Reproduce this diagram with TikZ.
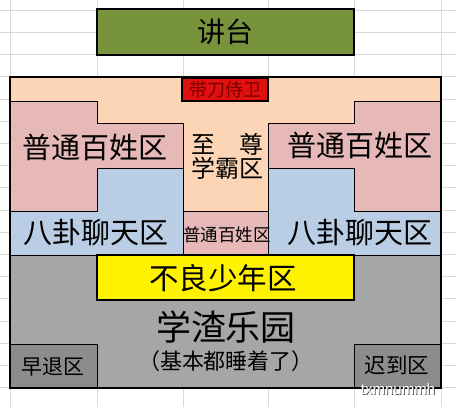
\documentclass[tikz,border=0pt]{standalone}
\usepackage{fontspec}
\newfontfamily\cjk{Noto Sans CJK SC}
\usetikzlibrary{positioning}

\definecolor{podiumgreen}{HTML}{77933C}
\definecolor{peachzone}{HTML}{FBD5B5}
\definecolor{pinkzone}{HTML}{E6B9B8}
\definecolor{bluezone}{HTML}{B9CDE5}
\definecolor{grayzone}{HTML}{A6A6A6}
\definecolor{darkzone}{HTML}{8C8C8C}
\definecolor{guardred}{HTML}{E0100F}
\definecolor{guardtext}{HTML}{7A0000}
\definecolor{gridgray}{HTML}{D9D9D9}

\begin{document}
\begin{tikzpicture}[
    x=1pt, y=-1pt,
    zone/.style={draw=black, line width=0.9pt},
    zonetext/.style={font=\cjk\fontsize{#1}{#1}\selectfont, inner sep=0pt, align=center},
    gridline/.style={draw=gridgray, line width=0.6pt},
    marktext/.style={font=\fontspec{Liberation Sans}\fontsize{15}{15}\selectfont, inner sep=0pt}
]
\useasboundingbox (0,0) rectangle (456,407);

% spreadsheet grid
\foreach \gx in {10,97,183,268,354,441}
    \draw[gridline] (\gx,0) -- (\gx,407);
\foreach \gy in {0,...,18}
    \draw[gridline] (0,10+22.2*\gy) -- (456,10+22.2*\gy);

% podium
\node[zone, line width=2pt, fill=podiumgreen, minimum width=257pt, minimum height=46pt, inner sep=0pt] (podium) at (225.5,32) {};
\node[zonetext=28] (podiumtext) at (podium.center) {讲台};

% classroom zones
\fill[peachzone] (10,77) rectangle (441,255);
\draw[zone, fill=pinkzone] (10,101) -- (97,101) -- (97,123) -- (183,123) -- (183,168) -- (97,168) -- (97,211) -- (10,211) -- cycle;
\draw[zone, fill=bluezone] (97,168) -- (183,168) -- (183,255) -- (10,255) -- (10,211) -- (97,211) -- cycle;
\draw[zone, fill=pinkzone] (441,101) -- (354,101) -- (354,123) -- (268,123) -- (268,168) -- (354,168) -- (354,211) -- (441,211) -- cycle;
\draw[zone, fill=bluezone] (354,168) -- (268,168) -- (268,255) -- (441,255) -- (441,211) -- (354,211) -- cycle;
\draw[zone, fill=pinkzone] (183,211) rectangle (268,255);
\draw[zone, fill=grayzone] (10,255) rectangle (441,388);
\draw[zone, line width=1.4pt, fill=yellow] (97,255) rectangle (354,300);
\draw[zone, fill=darkzone] (10,344) rectangle (97,388);
\draw[zone, fill=darkzone] (354,344) rectangle (441,388);
\draw[zone, line width=1.4pt, fill=guardred] (182,78) rectangle (268,101);
\draw[line width=2.5pt] (10,77) rectangle (441,388);

% zone names
\node[zonetext=18, text=guardtext] (guard) at (225,90) {带刀侍卫};
\node[zonetext=29] (commonleft) at (95,147) {普通百姓区};
\node[zonetext=29] (commonright) at (360,145) {普通百姓区};
\node[zonetext=24] (topstudent) at (227,156) {至　尊\\学霸区};
\node[zonetext=29] (gossipleft) at (96,233) {八卦聊天区};
\node[zonetext=29] (gossipright) at (360,233) {八卦聊天区};
\node[zonetext=17.5] (commonmid) at (227,235) {普通百姓区};
\node[zonetext=29.5] (badyouth) at (223,278) {不良少年区};
\node[zonetext=35] (slackers) at (226,327) {学渣乐园};
\node[zonetext=22, below=7pt of slackers] (asleep) {（基本都睡着了）};
\node[zonetext=21] (leaveearly) at (53,367) {早退区};
\node[zonetext=21.5] (comelate) at (397,365) {迟到区};

% watermark
\node[marktext, text=black!70] (markshadow) at (398.8,389.8) {txmnummh};
\node[marktext, text=white] (mark) at (398,389) {txmnummh};

\end{tikzpicture}
\end{document}
